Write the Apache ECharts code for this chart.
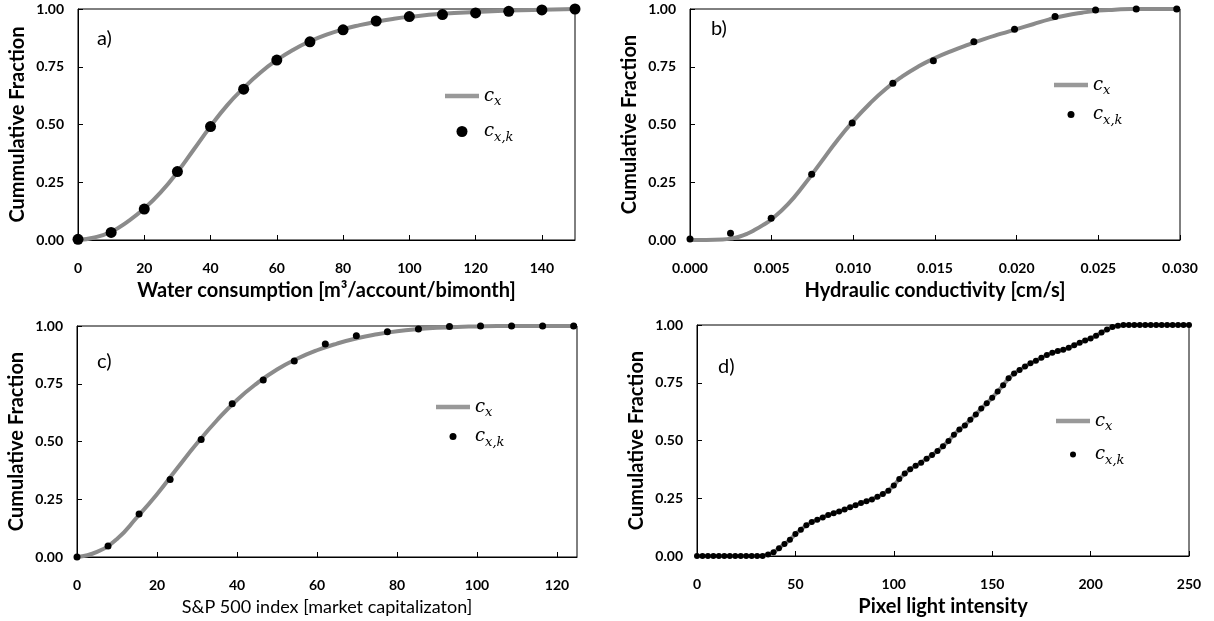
<!DOCTYPE html>
<html><head><meta charset="utf-8">
<script src="https://cdn.jsdelivr.net/npm/echarts@6/dist/echarts.min.js"></script>
<style>html,body{margin:0;padding:0;background:#fff}#c{width:1214px;height:621px}</style>
</head><body><div id="c"></div>
<script>
// ---------- DATA ----------
// Panel a) water consumption
const aDotX = [0,10,20,30,40,50,60,70,80,90,100,110,120,130,140,150];
const aDotY = [0.003,0.033,0.134,0.296,0.491,0.653,0.779,0.858,0.910,0.948,0.967,0.976,0.983,0.990,0.996,1.0];
const aCurveX = [0,5,10,15,20,25,30,35,40,45,50,55,60,65,70,75,80,85,90,95,100,110,120,130,140,150];
const aCurveY = [0,0.011,0.036,0.080,0.136,0.207,0.294,0.393,0.492,0.583,0.658,0.724,0.779,0.824,0.860,0.889,0.912,0.930,0.945,0.957,0.966,0.979,0.987,0.993,0.997,1.0];
// Panel b) hydraulic conductivity
const bDotX = [0,0.00248,0.00497,0.00745,0.00993,0.01242,0.0149,0.01738,0.01987,0.02235,0.02483,0.02732,0.0298];
const bDotY = [0.004,0.029,0.094,0.285,0.506,0.679,0.776,0.858,0.912,0.967,0.996,1.0,1.0];
const bCurveX = [0,0.001,0.002,0.0025,0.003,0.0035,0.004,0.0045,0.005,0.006,0.007,0.008,0.009,0.010,0.011,0.012,0.013,0.014,0.015,0.016,0.017,0.018,0.019,0.020,0.021,0.022,0.023,0.024,0.025,0.026,0.027,0.028,0.030];
const bCurveY = [0,0,0.002,0.006,0.014,0.027,0.045,0.066,0.090,0.155,0.240,0.335,0.430,0.515,0.590,0.655,0.708,0.752,0.788,0.818,0.845,0.870,0.892,0.913,0.934,0.955,0.972,0.984,0.993,0.997,1.0,1.0,1.0];
// Panel c) S&P 500
const cDotX = [0,7.76,15.52,23.28,31.04,38.8,46.56,54.32,62.08,69.84,77.6,85.36,93.12,100.88,108.64,116.4,124.16];
const cDotY = [0,0.048,0.186,0.335,0.509,0.663,0.766,0.848,0.922,0.958,0.975,0.987,0.998,1.0,1.0,1.0,1.0];
const cCurveX = [0,5,10,15,20,25,30,35,40,45,50,55,60,65,70,75,80,85,90,95,100,105,110,125];
const cCurveY = [0,0.022,0.078,0.172,0.272,0.383,0.492,0.592,0.680,0.752,0.812,0.858,0.895,0.924,0.947,0.964,0.977,0.986,0.992,0.996,0.998,1.0,1.0,1.0];
// Panel d) pixel light intensity (empirical, 91 points)
const dX = [0,2.78,5.56,8.33,11.11,13.89,16.67,19.44,22.22,25,27.78,30.56,33.33,36.11,38.89,41.67,44.44,47.22,50,52.78,55.56,58.33,61.11,63.89,66.67,69.44,72.22,75,77.78,80.56,83.33,86.11,88.89,91.67,94.44,97.22,100,102.78,105.56,108.33,111.11,113.89,116.67,119.44,122.22,125,127.78,130.56,133.33,136.11,138.89,141.67,144.44,147.22,150,152.78,155.56,158.33,161.11,163.89,166.67,169.44,172.22,175,177.78,180.56,183.33,186.11,188.89,191.67,194.44,197.22,200,202.78,205.56,208.33,211.11,213.89,216.67,219.44,222.22,225,227.78,230.56,233.33,236.11,238.89,241.67,244.44,247.22,250];
const dY = [0,0,0,0,0,0,0,0,0,0,0,0,0,0.006,0.016,0.034,0.052,0.070,0.095,0.114,0.133,0.147,0.157,0.167,0.177,0.185,0.193,0.201,0.211,0.220,0.229,0.237,0.245,0.256,0.268,0.283,0.305,0.333,0.357,0.376,0.391,0.404,0.421,0.437,0.455,0.475,0.498,0.525,0.548,0.565,0.590,0.613,0.638,0.661,0.685,0.712,0.739,0.769,0.790,0.805,0.820,0.834,0.845,0.858,0.870,0.880,0.887,0.893,0.901,0.912,0.923,0.933,0.942,0.954,0.967,0.980,0.991,0.997,1.0,1.0,1.0,1.0,1.0,1.0,1.0,1.0,1.0,1.0,1.0,1.0,1.0];
const yTicks = [0,0.25,0.5,0.75,1.0];

// ---------- BUILD ----------
const zip = (xs, ys) => xs.map((x, i) => [x, ys[i]]);
const FONT = 'Lato';
const LINE_GRAY = '#8b8b8b';
const grids = [], xAxes = [], yAxes = [], series = [], legends = [], titles = [];

function panel(cfg) {
  const i = grids.length;
  grids.push({left: cfg.g[0], top: cfg.g[1], width: cfg.g[2], height: cfg.g[3], show: true, borderColor: '#000', borderWidth: 1, backgroundColor: 'transparent'});
  xAxes.push({
    gridIndex: i, type: 'value', min: cfg.xmin, max: cfg.xmax, interval: cfg.xint,
    name: cfg.xname, nameLocation: 'middle', nameGap: 41,
    nameTextStyle: {fontFamily: FONT, fontWeight: cfg.xbold ? 'bold' : 'normal', fontSize: cfg.xbold ? 20 : 18, color: '#000'},
    axisLine: {lineStyle: {color: '#000', width: 1}},
    axisTick: {inside: true, length: 5, lineStyle: {color: '#000'}},
    splitLine: {show: false},
    axisLabel: {showMaxLabel: cfg.showMax, margin: 21, fontFamily: FONT, fontWeight: 'bold', fontSize: 14, color: '#000', formatter: v => v.toFixed(cfg.xdec)}
  });
  yAxes.push({
    gridIndex: i, type: 'value', min: 0, max: 1, interval: 0.25,
    name: cfg.yname, nameLocation: 'middle', nameGap: 50,
    nameTextStyle: {fontFamily: FONT, fontWeight: 'bold', fontSize: 20, color: '#000'},
    axisLine: {lineStyle: {color: '#000', width: 1}},
    axisTick: {inside: true, length: 5, lineStyle: {color: '#000'}},
    splitLine: {show: false},
    axisLabel: {margin: 14, fontFamily: FONT, fontWeight: 'bold', fontSize: 14, color: '#000', formatter: v => v.toFixed(2)}
  });
  series.push({
    type: 'line', name: 'cx', xAxisIndex: i, yAxisIndex: i, data: zip(cfg.lx, cfg.ly),
    smooth: cfg.smooth, symbol: 'none', showSymbol: false, lineStyle: {color: LINE_GRAY, width: 4}, itemStyle: {color: LINE_GRAY}, z: 2
  });
  series.push({
    type: 'scatter', name: 'cxk', xAxisIndex: i, yAxisIndex: i, data: zip(cfg.px, cfg.py),
    symbolSize: cfg.ds, itemStyle: {color: '#000', opacity: 1}, clip: false, z: 3
  });
  legends.push({
    orient: 'vertical', left: cfg.leg[0], top: cfg.leg[1], itemGap: cfg.leg[2],
    itemWidth: 34, itemHeight: cfg.ds, selectedMode: false, symbolKeepAspect: true,
    data: [
      {name: 'cx', icon: 'path://M0,0 L34,0 L34,4.5 L0,4.5 Z', itemStyle: {color: '#999999'}},
      {name: 'cxk', icon: 'circle', itemStyle: {color: '#000', opacity: 1}}
    ],
    formatter: n => n === 'cx' ? '{c|c}{s|x}' : '{c|c}{s|x,k}',
    textStyle: {rich: {
      c: {fontFamily: 'DejaVu Serif', fontStyle: 'italic', fontSize: 18, color: '#000'},
      s: {fontFamily: 'DejaVu Serif', fontStyle: 'italic', fontSize: 13, color: '#000', padding: [12, 0, 0, 0]}
    }}
  });
  titles.push({text: cfg.label, left: cfg.lab[0], top: cfg.lab[1], textStyle: {fontFamily: FONT, fontWeight: 'normal', fontSize: 20, color: '#000'}});
}

panel({g: [78, 9, 497, 231], xmin: 0, xmax: 150, xint: 20, xdec: 0, showMax: false,
  xname: 'Water consumption [m³/account/bimonth]', xbold: true, yname: 'Cummulative Fraction',
  lx: aCurveX, ly: aCurveY, px: aDotX, py: aDotY, smooth: true, ds: 11,
  leg: [440, 82, 14], label: 'a)', lab: [92, 24]});
panel({g: [690, 9, 490, 231], xmin: 0, xmax: 0.03, xint: 0.005, xdec: 3, showMax: true,
  xname: 'Hydraulic conductivity [cm/s]', xbold: true, yname: 'Cumulative Fraction',
  lx: bCurveX, ly: bCurveY, px: bDotX, py: bDotY, smooth: true, ds: 7,
  leg: [1049, 71, 8], label: 'b)', lab: [706, 14]});
panel({g: [77, 326, 500, 231], xmin: 0, xmax: 125, xint: 20, xdec: 0, showMax: false,
  xname: 'S&P 500 index [market capitalizaton]', xbold: false, yname: 'Cumulative Fraction',
  lx: cCurveX, ly: cCurveY, px: cDotX, py: cDotY, smooth: true, ds: 7,
  leg: [431, 393, 8], label: 'c)', lab: [92, 347]});
panel({g: [697, 325, 492, 231], xmin: 0, xmax: 250, xint: 50, xdec: 0, showMax: true,
  xname: 'Pixel light intensity', xbold: true, yname: 'Cumulative Fraction',
  lx: dX, ly: dY, px: dX, py: dY, smooth: false, ds: 6,
  leg: [1051, 407, 12], label: 'd)', lab: [713, 352]});

const chart = echarts.init(document.getElementById('c'), null, {renderer: 'canvas'});
chart.setOption({
  animation: false, backgroundColor: '#fff',
  title: titles, grid: grids, xAxis: xAxes, yAxis: yAxes, series: series, legend: legends
});
</script></body></html>
